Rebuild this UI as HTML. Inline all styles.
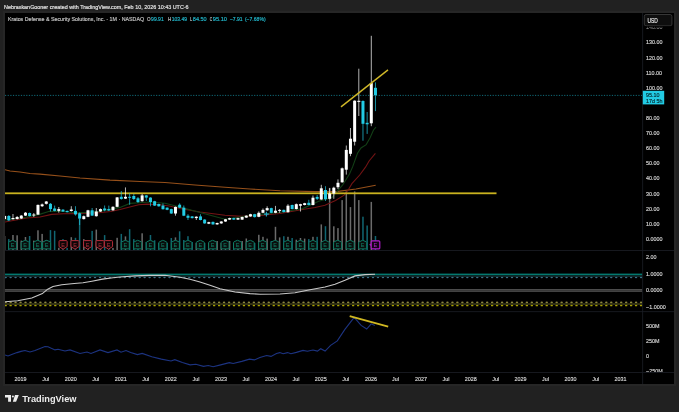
<!DOCTYPE html>
<html><head><meta charset="utf-8"><style>
html,body{margin:0;padding:0;background:#212121;width:679px;height:412px;overflow:hidden}
body{position:relative;font-family:"Liberation Sans",Arial,sans-serif}
#frame{position:absolute;left:3px;top:11px;width:672.5px;height:375px;background:#262626}
#chart{position:absolute;left:5px;top:13px;width:669px;height:371.3px;background:#000}
svg{position:absolute;left:0;top:0}
.ax{font-size:5.8px;fill:#dadada;stroke:#dadada;stroke-width:0.14px;font-family:"Liberation Sans",Arial,sans-serif}
.e{font-size:5.5px;font-family:"Liberation Sans",Arial,sans-serif;text-anchor:middle}
</style></head><body>
<div id="frame"></div>
<div id="chart"></div>
<svg width="679" height="412" viewBox="0 0 679 412"><defs><clipPath id="cp"><rect x="5" y="13" width="637.5" height="237"/></clipPath><clipPath id="cp2"><rect x="5" y="251" width="637.5" height="60.5"/></clipPath><clipPath id="cp5"><rect x="643" y="312" width="31" height="60.1"/></clipPath><clipPath id="cp3"><rect x="5" y="312" width="637.5" height="61"/></clipPath></defs><g clip-path="url(#cp)"><rect x="3.88" y="236.0" width="1.5" height="14.4" fill="rgba(255,255,255,0.42)"/><rect x="8.05" y="239.1" width="1.5" height="11.3" fill="rgba(34,203,228,0.5)"/><rect x="12.22" y="235.0" width="1.5" height="15.4" fill="rgba(255,255,255,0.42)"/><rect x="16.38" y="235.3" width="1.5" height="15.1" fill="rgba(255,255,255,0.42)"/><rect x="20.55" y="240.6" width="1.5" height="9.8" fill="rgba(255,255,255,0.42)"/><rect x="24.72" y="237.0" width="1.5" height="13.4" fill="rgba(255,255,255,0.42)"/><rect x="28.88" y="236.0" width="1.5" height="14.4" fill="rgba(34,203,228,0.5)"/><rect x="33.05" y="240.6" width="1.5" height="9.8" fill="rgba(255,255,255,0.42)"/><rect x="37.22" y="230.3" width="1.5" height="20.1" fill="rgba(255,255,255,0.42)"/><rect x="41.38" y="233.9" width="1.5" height="16.5" fill="rgba(255,255,255,0.42)"/><rect x="45.55" y="240.0" width="1.5" height="10.4" fill="rgba(255,255,255,0.42)"/><rect x="49.72" y="230.1" width="1.5" height="20.3" fill="rgba(34,203,228,0.5)"/><rect x="53.88" y="230.8" width="1.5" height="19.6" fill="rgba(34,203,228,0.5)"/><rect x="58.05" y="247.8" width="1.5" height="2.6" fill="rgba(255,255,255,0.42)"/><rect x="62.22" y="239.1" width="1.5" height="11.3" fill="rgba(34,203,228,0.5)"/><rect x="66.38" y="247.9" width="1.5" height="2.5" fill="rgba(34,203,228,0.5)"/><rect x="70.55" y="237.2" width="1.5" height="13.2" fill="rgba(255,255,255,0.42)"/><rect x="74.72" y="237.8" width="1.5" height="12.6" fill="rgba(34,203,228,0.5)"/><rect x="78.88" y="219.0" width="1.5" height="31.4" fill="rgba(34,203,228,0.5)"/><rect x="83.05" y="239.1" width="1.5" height="11.3" fill="rgba(255,255,255,0.42)"/><rect x="87.22" y="241.0" width="1.5" height="9.4" fill="rgba(255,255,255,0.42)"/><rect x="91.38" y="230.9" width="1.5" height="19.5" fill="rgba(34,203,228,0.5)"/><rect x="95.55" y="229.6" width="1.5" height="20.8" fill="rgba(255,255,255,0.42)"/><rect x="99.72" y="241.6" width="1.5" height="8.8" fill="rgba(255,255,255,0.42)"/><rect x="103.88" y="235.1" width="1.5" height="15.3" fill="rgba(34,203,228,0.5)"/><rect x="108.05" y="241.6" width="1.5" height="8.8" fill="rgba(34,203,228,0.5)"/><rect x="112.22" y="247.9" width="1.5" height="2.5" fill="rgba(255,255,255,0.42)"/><rect x="116.38" y="237.8" width="1.5" height="12.6" fill="rgba(255,255,255,0.42)"/><rect x="120.55" y="233.9" width="1.5" height="16.5" fill="rgba(34,203,228,0.5)"/><rect x="124.72" y="236.4" width="1.5" height="14.0" fill="rgba(255,255,255,0.42)"/><rect x="128.88" y="229.2" width="1.5" height="21.2" fill="rgba(34,203,228,0.5)"/><rect x="133.05" y="239.1" width="1.5" height="11.3" fill="rgba(34,203,228,0.5)"/><rect x="137.22" y="242.0" width="1.5" height="8.4" fill="rgba(34,203,228,0.5)"/><rect x="141.38" y="233.3" width="1.5" height="17.1" fill="rgba(255,255,255,0.42)"/><rect x="145.55" y="242.0" width="1.5" height="8.4" fill="rgba(34,203,228,0.5)"/><rect x="149.72" y="235.0" width="1.5" height="15.4" fill="rgba(34,203,228,0.5)"/><rect x="153.88" y="240.3" width="1.5" height="10.1" fill="rgba(34,203,228,0.5)"/><rect x="158.05" y="243.0" width="1.5" height="7.4" fill="rgba(34,203,228,0.5)"/><rect x="162.22" y="243.0" width="1.5" height="7.4" fill="rgba(34,203,228,0.5)"/><rect x="166.38" y="243.0" width="1.5" height="7.4" fill="rgba(34,203,228,0.5)"/><rect x="170.55" y="238.0" width="1.5" height="12.4" fill="rgba(34,203,228,0.5)"/><rect x="174.72" y="237.4" width="1.5" height="13.0" fill="rgba(255,255,255,0.42)"/><rect x="178.88" y="231.3" width="1.5" height="19.1" fill="rgba(34,203,228,0.5)"/><rect x="183.05" y="240.0" width="1.5" height="10.4" fill="rgba(34,203,228,0.5)"/><rect x="187.22" y="236.2" width="1.5" height="14.2" fill="rgba(34,203,228,0.5)"/><rect x="191.38" y="242.0" width="1.5" height="8.4" fill="rgba(34,203,228,0.5)"/><rect x="195.55" y="243.0" width="1.5" height="7.4" fill="rgba(255,255,255,0.42)"/><rect x="199.72" y="241.0" width="1.5" height="9.4" fill="rgba(34,203,228,0.5)"/><rect x="203.88" y="243.0" width="1.5" height="7.4" fill="rgba(34,203,228,0.5)"/><rect x="208.05" y="243.0" width="1.5" height="7.4" fill="rgba(255,255,255,0.42)"/><rect x="212.22" y="243.0" width="1.5" height="7.4" fill="rgba(34,203,228,0.5)"/><rect x="216.38" y="241.0" width="1.5" height="9.4" fill="rgba(255,255,255,0.42)"/><rect x="220.55" y="243.0" width="1.5" height="7.4" fill="rgba(255,255,255,0.42)"/><rect x="224.72" y="243.0" width="1.5" height="7.4" fill="rgba(255,255,255,0.42)"/><rect x="228.88" y="241.0" width="1.5" height="9.4" fill="rgba(255,255,255,0.42)"/><rect x="233.05" y="243.0" width="1.5" height="7.4" fill="rgba(34,203,228,0.5)"/><rect x="237.22" y="243.0" width="1.5" height="7.4" fill="rgba(255,255,255,0.42)"/><rect x="241.39" y="241.0" width="1.5" height="9.4" fill="rgba(255,255,255,0.42)"/><rect x="245.55" y="238.5" width="1.5" height="11.9" fill="rgba(255,255,255,0.42)"/><rect x="249.72" y="243.0" width="1.5" height="7.4" fill="rgba(255,255,255,0.42)"/><rect x="253.89" y="243.0" width="1.5" height="7.4" fill="rgba(34,203,228,0.5)"/><rect x="258.05" y="234.8" width="1.5" height="15.6" fill="rgba(255,255,255,0.42)"/><rect x="262.22" y="236.8" width="1.5" height="13.6" fill="rgba(255,255,255,0.42)"/><rect x="266.39" y="238.6" width="1.5" height="11.8" fill="rgba(255,255,255,0.42)"/><rect x="270.55" y="241.0" width="1.5" height="9.4" fill="rgba(34,203,228,0.5)"/><rect x="274.72" y="226.8" width="1.5" height="23.6" fill="rgba(255,255,255,0.42)"/><rect x="278.89" y="237.4" width="1.5" height="13.0" fill="rgba(255,255,255,0.42)"/><rect x="283.05" y="236.2" width="1.5" height="14.2" fill="rgba(34,203,228,0.5)"/><rect x="287.22" y="236.8" width="1.5" height="13.6" fill="rgba(255,255,255,0.42)"/><rect x="291.39" y="238.0" width="1.5" height="12.4" fill="rgba(34,203,228,0.5)"/><rect x="295.55" y="239.7" width="1.5" height="10.7" fill="rgba(255,255,255,0.42)"/><rect x="299.72" y="238.0" width="1.5" height="12.4" fill="rgba(255,255,255,0.42)"/><rect x="303.89" y="238.6" width="1.5" height="11.8" fill="rgba(255,255,255,0.42)"/><rect x="308.05" y="239.1" width="1.5" height="11.3" fill="rgba(34,203,228,0.5)"/><rect x="312.22" y="236.8" width="1.5" height="13.6" fill="rgba(255,255,255,0.42)"/><rect x="316.39" y="236.8" width="1.5" height="13.6" fill="rgba(34,203,228,0.5)"/><rect x="320.55" y="224.4" width="1.5" height="26.0" fill="rgba(255,255,255,0.42)"/><rect x="324.72" y="226.2" width="1.5" height="24.2" fill="rgba(34,203,228,0.5)"/><rect x="328.89" y="187.9" width="1.5" height="62.5" fill="rgba(255,255,255,0.42)"/><rect x="333.05" y="226.3" width="1.5" height="24.1" fill="rgba(255,255,255,0.42)"/><rect x="337.22" y="228.1" width="1.5" height="22.3" fill="rgba(255,255,255,0.42)"/><rect x="341.39" y="200.1" width="1.5" height="50.3" fill="rgba(255,255,255,0.42)"/><rect x="345.55" y="191.4" width="1.5" height="59.0" fill="rgba(255,255,255,0.42)"/><rect x="349.72" y="207.1" width="1.5" height="43.3" fill="rgba(255,255,255,0.42)"/><rect x="353.89" y="191.4" width="1.5" height="59.0" fill="rgba(255,255,255,0.42)"/><rect x="358.05" y="200.1" width="1.5" height="50.3" fill="rgba(255,255,255,0.42)"/><rect x="362.22" y="216.7" width="1.5" height="33.7" fill="rgba(34,203,228,0.5)"/><rect x="366.39" y="225.5" width="1.5" height="24.9" fill="rgba(34,203,228,0.5)"/><rect x="370.55" y="201.9" width="1.5" height="48.5" fill="rgba(255,255,255,0.42)"/><rect x="374.72" y="236.0" width="1.5" height="14.4" fill="rgba(34,203,228,0.5)"/><polyline points="4.8,169.7 10.0,171.0 20.0,172.0 30.0,173.5 40.0,174.1 60.0,176.0 80.0,178.0 110.0,180.1 140.0,181.5 165.0,182.5 195.0,185.0 225.0,187.3 250.0,189.0 280.0,190.8 315.0,191.6 338.0,191.4 356.0,189.0 375.7,185.2" fill="none" stroke="#96501a" stroke-width="1.1"/><polyline points="4.8,222.0 26.7,218.0 40.0,217.0 51.8,214.4 63.6,213.8 75.3,213.6 87.1,213.3 98.9,212.7 110.7,211.5 120.0,209.5 138.7,204.7 146.7,204.1 160.0,204.7 169.3,206.0 180.0,208.5 200.0,212.0 225.0,215.2 241.8,216.4 260.0,215.5 280.0,213.5 304.0,209.3 315.0,207.5 325.0,205.3 335.5,200.5 344.2,195.1 348.5,189.5 351.9,183.7 359.7,175.0 365.5,167.2 369.1,161.0 375.4,153.3" fill="none" stroke="#721314" stroke-width="1.1"/><polyline points="4.8,220.0 24.3,217.5 38.8,214.6 49.4,211.2 63.6,211.5 75.3,212.7 87.1,212.4 98.9,211.5 110.7,209.1 120.0,207.4 130.0,203.4 150.0,202.0 165.0,203.3 180.0,207.0 200.0,212.5 225.0,219.3 249.0,215.7 280.0,212.3 302.7,208.6 318.7,201.3 332.0,197.5 342.5,185.2 349.5,174.0 352.6,166.9 357.5,153.3 361.0,148.0 366.2,144.6 370.1,137.8 373.5,130.0 376.0,127.2" fill="none" stroke="#123f16" stroke-width="1.1"/><rect x="5" y="192.4" width="491.5" height="1.8" fill="#c9b21f"/><line x1="5" y1="95.4" x2="642" y2="95.4" stroke="#137d8e" stroke-width="0.85" stroke-dasharray="1.2,1.45"/><rect x="4.13" y="215" width="1" height="5.0" fill="#ffffff" fill-opacity="0.7"/><rect x="3.13" y="216" width="3" height="3.0" fill="#ffffff"/><rect x="8.30" y="215" width="1" height="6.0" fill="#22cbe4" fill-opacity="0.7"/><rect x="7.30" y="216" width="3" height="4.4" fill="#22cbe4"/><rect x="12.47" y="214" width="1" height="5.5" fill="#ffffff" fill-opacity="0.7"/><rect x="11.47" y="218" width="3" height="1.2" fill="#ffffff"/><rect x="16.63" y="216" width="1" height="3.5" fill="#ffffff" fill-opacity="0.7"/><rect x="15.63" y="217" width="3" height="2.0" fill="#ffffff"/><rect x="20.80" y="215" width="1" height="4.0" fill="#ffffff" fill-opacity="0.7"/><rect x="19.80" y="215.6" width="3" height="2.9" fill="#ffffff"/><rect x="24.97" y="212" width="1" height="4.0" fill="#ffffff" fill-opacity="0.7"/><rect x="23.97" y="212.7" width="3" height="2.9" fill="#ffffff"/><rect x="29.13" y="212.5" width="1" height="4.0" fill="#22cbe4" fill-opacity="0.7"/><rect x="28.13" y="213" width="3" height="3.0" fill="#22cbe4"/><rect x="33.30" y="213" width="1" height="4.0" fill="#ffffff" fill-opacity="0.7"/><rect x="32.30" y="214.5" width="3" height="1.0" fill="#ffffff"/><rect x="37.47" y="204.5" width="1" height="10.5" fill="#ffffff" fill-opacity="0.7"/><rect x="36.47" y="204.9" width="3" height="9.7" fill="#ffffff"/><rect x="41.63" y="203.5" width="1" height="3.5" fill="#ffffff" fill-opacity="0.7"/><rect x="40.63" y="204.4" width="3" height="1.8" fill="#ffffff"/><rect x="45.80" y="201" width="1" height="3.5" fill="#ffffff" fill-opacity="0.7"/><rect x="44.80" y="201.5" width="3" height="2.3" fill="#ffffff"/><rect x="49.97" y="203" width="1" height="8.5" fill="#22cbe4" fill-opacity="0.7"/><rect x="48.97" y="203.8" width="3" height="5.3" fill="#22cbe4"/><rect x="54.13" y="205.6" width="1" height="5.7" fill="#22cbe4" fill-opacity="0.7"/><rect x="53.13" y="208.5" width="3" height="2.4" fill="#22cbe4"/><rect x="58.30" y="207" width="1" height="5.7" fill="#ffffff" fill-opacity="0.7"/><rect x="57.30" y="209.1" width="3" height="1.8" fill="#ffffff"/><rect x="62.47" y="209" width="1" height="3.0" fill="#22cbe4" fill-opacity="0.7"/><rect x="61.47" y="209.7" width="3" height="1.8" fill="#22cbe4"/><rect x="66.63" y="210.5" width="1" height="2.0" fill="#22cbe4" fill-opacity="0.7"/><rect x="65.63" y="210.9" width="3" height="1.2" fill="#22cbe4"/><rect x="70.80" y="206.2" width="1" height="5.3" fill="#ffffff" fill-opacity="0.7"/><rect x="69.80" y="209.5" width="3" height="1.5" fill="#ffffff"/><rect x="74.97" y="206.2" width="1" height="9.4" fill="#22cbe4" fill-opacity="0.7"/><rect x="73.97" y="210.9" width="3" height="3.5" fill="#22cbe4"/><rect x="79.13" y="212.5" width="1" height="12.5" fill="#22cbe4" fill-opacity="0.7"/><rect x="78.13" y="213.3" width="3" height="5.3" fill="#22cbe4"/><rect x="83.30" y="215.5" width="1" height="4.0" fill="#ffffff" fill-opacity="0.7"/><rect x="82.30" y="216.2" width="3" height="2.9" fill="#ffffff"/><rect x="87.47" y="209.8" width="1" height="7.4" fill="#ffffff" fill-opacity="0.7"/><rect x="86.47" y="210.3" width="3" height="6.5" fill="#ffffff"/><rect x="91.63" y="208" width="1" height="8.0" fill="#22cbe4" fill-opacity="0.7"/><rect x="90.63" y="210.3" width="3" height="5.3" fill="#22cbe4"/><rect x="95.80" y="208" width="1" height="8.6" fill="#ffffff" fill-opacity="0.7"/><rect x="94.80" y="211.5" width="3" height="4.7" fill="#ffffff"/><rect x="99.97" y="208.5" width="1" height="3.5" fill="#ffffff" fill-opacity="0.7"/><rect x="98.97" y="209.1" width="3" height="2.4" fill="#ffffff"/><rect x="104.13" y="205.5" width="1" height="5.8" fill="#22cbe4" fill-opacity="0.7"/><rect x="103.13" y="208.5" width="3" height="1.8" fill="#22cbe4"/><rect x="108.30" y="205.6" width="1" height="5.4" fill="#22cbe4" fill-opacity="0.7"/><rect x="107.30" y="209.1" width="3" height="1.4" fill="#22cbe4"/><rect x="112.47" y="206.3" width="1" height="4.5" fill="#ffffff" fill-opacity="0.7"/><rect x="111.47" y="206.8" width="3" height="3.5" fill="#ffffff"/><rect x="116.63" y="197" width="1" height="10.2" fill="#ffffff" fill-opacity="0.7"/><rect x="115.63" y="197.4" width="3" height="9.4" fill="#ffffff"/><rect x="120.80" y="191" width="1" height="8.7" fill="#22cbe4" fill-opacity="0.7"/><rect x="119.80" y="196.8" width="3" height="2.2" fill="#22cbe4"/><rect x="124.97" y="187.4" width="1" height="11.6" fill="#ffffff" fill-opacity="0.7"/><rect x="123.97" y="196.8" width="3" height="1.8" fill="#ffffff"/><rect x="129.13" y="193.2" width="1" height="11.6" fill="#22cbe4" fill-opacity="0.7"/><rect x="128.13" y="196.8" width="3" height="1.0" fill="#22cbe4"/><rect x="133.30" y="194" width="1" height="6.0" fill="#22cbe4" fill-opacity="0.7"/><rect x="132.30" y="196" width="3" height="3.0" fill="#22cbe4"/><rect x="137.47" y="197" width="1" height="6.0" fill="#22cbe4" fill-opacity="0.7"/><rect x="136.47" y="198.3" width="3" height="3.7" fill="#22cbe4"/><rect x="141.63" y="194" width="1" height="7.6" fill="#ffffff" fill-opacity="0.7"/><rect x="140.63" y="195.4" width="3" height="5.8" fill="#ffffff"/><rect x="145.80" y="195" width="1" height="6.0" fill="#22cbe4" fill-opacity="0.7"/><rect x="144.80" y="195.4" width="3" height="2.2" fill="#22cbe4"/><rect x="149.97" y="197.2" width="1" height="9.1" fill="#22cbe4" fill-opacity="0.7"/><rect x="148.97" y="197.6" width="3" height="4.4" fill="#22cbe4"/><rect x="154.13" y="200.8" width="1" height="5.2" fill="#22cbe4" fill-opacity="0.7"/><rect x="153.13" y="201.2" width="3" height="4.4" fill="#22cbe4"/><rect x="158.30" y="203.6" width="1" height="3.1" fill="#22cbe4" fill-opacity="0.7"/><rect x="157.30" y="204" width="3" height="2.3" fill="#22cbe4"/><rect x="162.47" y="203.4" width="1" height="6.2" fill="#22cbe4" fill-opacity="0.7"/><rect x="161.47" y="205.6" width="3" height="3.6" fill="#22cbe4"/><rect x="166.63" y="207.3" width="1" height="2.9" fill="#22cbe4" fill-opacity="0.7"/><rect x="165.63" y="207.7" width="3" height="2.1" fill="#22cbe4"/><rect x="170.80" y="208.7" width="1" height="5.2" fill="#22cbe4" fill-opacity="0.7"/><rect x="169.80" y="209.1" width="3" height="4.4" fill="#22cbe4"/><rect x="174.97" y="206.5" width="1" height="9.2" fill="#ffffff" fill-opacity="0.7"/><rect x="173.97" y="206.9" width="3" height="6.6" fill="#ffffff"/><rect x="179.13" y="203.3" width="1" height="4.8" fill="#22cbe4" fill-opacity="0.7"/><rect x="178.13" y="204.7" width="3" height="3.0" fill="#22cbe4"/><rect x="183.30" y="205.5" width="1" height="10.6" fill="#22cbe4" fill-opacity="0.7"/><rect x="182.30" y="207.7" width="3" height="8.0" fill="#22cbe4"/><rect x="187.47" y="214.2" width="1" height="5.8" fill="#22cbe4" fill-opacity="0.7"/><rect x="186.47" y="215.7" width="3" height="2.1" fill="#22cbe4"/><rect x="191.63" y="216" width="1" height="2.5" fill="#22cbe4" fill-opacity="0.7"/><rect x="190.63" y="216.4" width="3" height="1.7" fill="#22cbe4"/><rect x="195.80" y="216.3" width="1" height="3.7" fill="#ffffff" fill-opacity="0.7"/><rect x="194.80" y="216.7" width="3" height="1.4" fill="#ffffff"/><rect x="199.97" y="214.2" width="1" height="6.2" fill="#22cbe4" fill-opacity="0.7"/><rect x="198.97" y="216.4" width="3" height="3.6" fill="#22cbe4"/><rect x="204.13" y="219.2" width="1" height="4.6" fill="#22cbe4" fill-opacity="0.7"/><rect x="203.13" y="219.6" width="3" height="3.8" fill="#22cbe4"/><rect x="208.30" y="221.8" width="1" height="2.3" fill="#ffffff" fill-opacity="0.7"/><rect x="207.30" y="222.2" width="3" height="1.5" fill="#ffffff"/><rect x="212.47" y="221.5" width="1" height="3.3" fill="#22cbe4" fill-opacity="0.7"/><rect x="211.47" y="221.9" width="3" height="2.5" fill="#22cbe4"/><rect x="216.63" y="222.6" width="1" height="2.2" fill="#ffffff" fill-opacity="0.7"/><rect x="215.63" y="223" width="3" height="1.4" fill="#ffffff"/><rect x="220.80" y="221.1" width="1" height="2.7" fill="#ffffff" fill-opacity="0.7"/><rect x="219.80" y="221.5" width="3" height="1.9" fill="#ffffff"/><rect x="224.97" y="218.9" width="1" height="3.0" fill="#ffffff" fill-opacity="0.7"/><rect x="223.97" y="219.3" width="3" height="2.2" fill="#ffffff"/><rect x="229.13" y="217.7" width="1" height="2.3" fill="#ffffff" fill-opacity="0.7"/><rect x="228.13" y="218.1" width="3" height="1.5" fill="#ffffff"/><rect x="233.30" y="217.7" width="1" height="2.3" fill="#22cbe4" fill-opacity="0.7"/><rect x="232.30" y="218.1" width="3" height="1.5" fill="#22cbe4"/><rect x="237.47" y="217.7" width="1" height="2.3" fill="#ffffff" fill-opacity="0.7"/><rect x="236.47" y="218.1" width="3" height="1.5" fill="#ffffff"/><rect x="241.64" y="216.6" width="1" height="3.4" fill="#ffffff" fill-opacity="0.7"/><rect x="240.64" y="217" width="3" height="2.6" fill="#ffffff"/><rect x="245.80" y="215.3" width="1" height="2.7" fill="#ffffff" fill-opacity="0.7"/><rect x="244.80" y="215.7" width="3" height="1.9" fill="#ffffff"/><rect x="249.97" y="213.8" width="1" height="3.0" fill="#ffffff" fill-opacity="0.7"/><rect x="248.97" y="214.2" width="3" height="2.2" fill="#ffffff"/><rect x="254.14" y="213.8" width="1" height="3.7" fill="#22cbe4" fill-opacity="0.7"/><rect x="253.14" y="214.2" width="3" height="2.9" fill="#22cbe4"/><rect x="258.30" y="211.4" width="1" height="5.8" fill="#ffffff" fill-opacity="0.7"/><rect x="257.30" y="212.8" width="3" height="4.0" fill="#ffffff"/><rect x="262.47" y="208.5" width="1" height="4.7" fill="#ffffff" fill-opacity="0.7"/><rect x="261.47" y="209.9" width="3" height="2.9" fill="#ffffff"/><rect x="266.64" y="206.3" width="1" height="4.4" fill="#ffffff" fill-opacity="0.7"/><rect x="265.64" y="208.1" width="3" height="2.2" fill="#ffffff"/><rect x="270.80" y="207.7" width="1" height="5.5" fill="#22cbe4" fill-opacity="0.7"/><rect x="269.80" y="208.1" width="3" height="4.7" fill="#22cbe4"/><rect x="274.97" y="205.9" width="1" height="7.3" fill="#ffffff" fill-opacity="0.7"/><rect x="273.97" y="210.7" width="3" height="2.1" fill="#ffffff"/><rect x="279.14" y="209" width="1" height="3.8" fill="#ffffff" fill-opacity="0.7"/><rect x="278.14" y="209.9" width="3" height="1.0" fill="#ffffff"/><rect x="283.30" y="209.5" width="1" height="3.0" fill="#22cbe4" fill-opacity="0.7"/><rect x="282.30" y="209.9" width="3" height="2.2" fill="#22cbe4"/><rect x="287.47" y="204.2" width="1" height="8.4" fill="#ffffff" fill-opacity="0.7"/><rect x="286.47" y="205.7" width="3" height="6.5" fill="#ffffff"/><rect x="291.64" y="204.6" width="1" height="4.8" fill="#22cbe4" fill-opacity="0.7"/><rect x="290.64" y="205" width="3" height="4.0" fill="#22cbe4"/><rect x="295.80" y="203.5" width="1" height="5.9" fill="#ffffff" fill-opacity="0.7"/><rect x="294.80" y="204.2" width="3" height="4.8" fill="#ffffff"/><rect x="299.97" y="203.8" width="1" height="7.7" fill="#ffffff" fill-opacity="0.7"/><rect x="298.97" y="204.2" width="3" height="1.5" fill="#ffffff"/><rect x="304.14" y="202.8" width="1" height="2.6" fill="#ffffff" fill-opacity="0.7"/><rect x="303.14" y="203.2" width="3" height="1.8" fill="#ffffff"/><rect x="308.30" y="199.8" width="1" height="5.6" fill="#22cbe4" fill-opacity="0.7"/><rect x="307.30" y="202.8" width="3" height="2.2" fill="#22cbe4"/><rect x="312.47" y="195.5" width="1" height="9.9" fill="#ffffff" fill-opacity="0.7"/><rect x="311.47" y="197.7" width="3" height="7.3" fill="#ffffff"/><rect x="316.64" y="195" width="1" height="5.0" fill="#22cbe4" fill-opacity="0.7"/><rect x="315.64" y="196.9" width="3" height="1.9" fill="#22cbe4"/><rect x="320.80" y="184.8" width="1" height="15.1" fill="#ffffff" fill-opacity="0.7"/><rect x="319.80" y="188.3" width="3" height="11.2" fill="#ffffff"/><rect x="324.97" y="186.2" width="1" height="14.8" fill="#22cbe4" fill-opacity="0.7"/><rect x="323.97" y="190" width="3" height="9.2" fill="#22cbe4"/><rect x="329.14" y="188.2" width="1" height="11.0" fill="#ffffff" fill-opacity="0.7"/><rect x="328.14" y="193.5" width="3" height="5.3" fill="#ffffff"/><rect x="333.30" y="186.7" width="1" height="12.1" fill="#ffffff" fill-opacity="0.7"/><rect x="332.30" y="187.7" width="3" height="5.8" fill="#ffffff"/><rect x="337.47" y="179.4" width="1" height="9.7" fill="#ffffff" fill-opacity="0.7"/><rect x="336.47" y="182.8" width="3" height="4.4" fill="#ffffff"/><rect x="341.64" y="167.5" width="1" height="15.2" fill="#ffffff" fill-opacity="0.7"/><rect x="340.64" y="168.3" width="3" height="14.0" fill="#ffffff"/><rect x="345.80" y="145.5" width="1" height="29.1" fill="#ffffff" fill-opacity="0.7"/><rect x="344.80" y="149.9" width="3" height="19.8" fill="#ffffff"/><rect x="349.97" y="128" width="1" height="28.2" fill="#ffffff" fill-opacity="0.7"/><rect x="348.97" y="138.7" width="3" height="15.1" fill="#ffffff"/><rect x="354.14" y="100.3" width="1" height="45.2" fill="#ffffff" fill-opacity="0.7"/><rect x="353.14" y="100.7" width="3" height="41.0" fill="#ffffff"/><rect x="358.30" y="68.7" width="1" height="47.3" fill="#ffffff" fill-opacity="0.7"/><rect x="357.30" y="100.8" width="3" height="1.1" fill="#ffffff"/><rect x="362.47" y="100.3" width="1" height="40.4" fill="#22cbe4" fill-opacity="0.7"/><rect x="361.47" y="101" width="3" height="22.8" fill="#22cbe4"/><rect x="366.64" y="112" width="1" height="21.9" fill="#22cbe4" fill-opacity="0.7"/><rect x="365.64" y="122.8" width="3" height="1.5" fill="#22cbe4"/><rect x="370.80" y="35.8" width="1" height="90.4" fill="#ffffff" fill-opacity="0.7"/><rect x="369.80" y="83.1" width="3" height="40.2" fill="#ffffff"/><rect x="374.97" y="82.4" width="1" height="28.7" fill="#22cbe4" fill-opacity="0.7"/><rect x="373.97" y="87.8" width="3" height="7.3" fill="#22cbe4"/><line x1="341" y1="106.9" x2="388" y2="69.9" stroke="#d0b828" stroke-width="1.4"/><path d="M264 214.1h4.8M266.4 211.7v4.8" stroke="#22a8c8" stroke-width="1.1"/><path d="M8.60 248.9V242.4Q8.60 242.1 9.00 241.9L12.20 240.4Q12.60 240.2 13.00 240.4L16.20 241.9Q16.60 242.1 16.60 242.4V248.9Z" fill="#0a0d0c" stroke="#108067" stroke-width="0.95"/><text x="12.60" y="247.2" class="e" fill="#108067">E</text><path d="M21.20 248.9V242.4Q21.20 242.1 21.60 241.9L24.80 240.4Q25.20 240.2 25.60 240.4L28.80 241.9Q29.20 242.1 29.20 242.4V248.9Z" fill="#0a0d0c" stroke="#108067" stroke-width="0.95"/><text x="25.20" y="247.2" class="e" fill="#108067">E</text><path d="M33.60 248.9V242.4Q33.60 242.1 34.00 241.9L37.20 240.4Q37.60 240.2 38.00 240.4L41.20 241.9Q41.60 242.1 41.60 242.4V248.9Z" fill="#0a0d0c" stroke="#108067" stroke-width="0.95"/><text x="37.60" y="247.2" class="e" fill="#108067">E</text><path d="M42.60 248.9V242.4Q42.60 242.1 43.00 241.9L46.20 240.4Q46.60 240.2 47.00 240.4L50.20 241.9Q50.60 242.1 50.60 242.4V248.9Z" fill="#0a0d0c" stroke="#108067" stroke-width="0.95"/><text x="46.60" y="247.2" class="e" fill="#108067">E</text><path d="M121.30 248.9V242.4Q121.30 242.1 121.70 241.9L124.90 240.4Q125.30 240.2 125.70 240.4L128.90 241.9Q129.30 242.1 129.30 242.4V248.9Z" fill="#0a0d0c" stroke="#108067" stroke-width="0.95"/><text x="125.30" y="247.2" class="e" fill="#108067">E</text><path d="M133.70 248.9V242.4Q133.70 242.1 134.10 241.9L137.30 240.4Q137.70 240.2 138.10 240.4L141.30 241.9Q141.70 242.1 141.70 242.4V248.9Z" fill="#0a0d0c" stroke="#108067" stroke-width="0.95"/><text x="137.70" y="247.2" class="e" fill="#108067">E</text><path d="M146.30 248.9V242.4Q146.30 242.1 146.70 241.9L149.90 240.4Q150.30 240.2 150.70 240.4L153.90 241.9Q154.30 242.1 154.30 242.4V248.9Z" fill="#0a0d0c" stroke="#108067" stroke-width="0.95"/><text x="150.30" y="247.2" class="e" fill="#108067">E</text><path d="M158.90 248.9V242.4Q158.90 242.1 159.30 241.9L162.50 240.4Q162.90 240.2 163.30 240.4L166.50 241.9Q166.90 242.1 166.90 242.4V248.9Z" fill="#0a0d0c" stroke="#108067" stroke-width="0.95"/><text x="162.90" y="247.2" class="e" fill="#108067">E</text><path d="M171.40 248.9V242.4Q171.40 242.1 171.80 241.9L175.00 240.4Q175.40 240.2 175.80 240.4L179.00 241.9Q179.40 242.1 179.40 242.4V248.9Z" fill="#0a0d0c" stroke="#108067" stroke-width="0.95"/><text x="175.40" y="247.2" class="e" fill="#108067">E</text><path d="M183.90 248.9V242.4Q183.90 242.1 184.30 241.9L187.50 240.4Q187.90 240.2 188.30 240.4L191.50 241.9Q191.90 242.1 191.90 242.4V248.9Z" fill="#0a0d0c" stroke="#108067" stroke-width="0.95"/><text x="187.90" y="247.2" class="e" fill="#108067">E</text><path d="M196.30 248.9V242.4Q196.30 242.1 196.70 241.9L199.90 240.4Q200.30 240.2 200.70 240.4L203.90 241.9Q204.30 242.1 204.30 242.4V248.9Z" fill="#0a0d0c" stroke="#108067" stroke-width="0.95"/><text x="200.30" y="247.2" class="e" fill="#108067">E</text><path d="M208.60 248.9V242.4Q208.60 242.1 209.00 241.9L212.20 240.4Q212.60 240.2 213.00 240.4L216.20 241.9Q216.60 242.1 216.60 242.4V248.9Z" fill="#0a0d0c" stroke="#108067" stroke-width="0.95"/><text x="212.60" y="247.2" class="e" fill="#108067">E</text><path d="M221.10 248.9V242.4Q221.10 242.1 221.50 241.9L224.70 240.4Q225.10 240.2 225.50 240.4L228.70 241.9Q229.10 242.1 229.10 242.4V248.9Z" fill="#0a0d0c" stroke="#108067" stroke-width="0.95"/><text x="225.10" y="247.2" class="e" fill="#108067">E</text><path d="M233.50 248.9V242.4Q233.50 242.1 233.90 241.9L237.10 240.4Q237.50 240.2 237.90 240.4L241.10 241.9Q241.50 242.1 241.50 242.4V248.9Z" fill="#0a0d0c" stroke="#108067" stroke-width="0.95"/><text x="237.50" y="247.2" class="e" fill="#108067">E</text><path d="M246.20 248.9V242.4Q246.20 242.1 246.60 241.9L249.80 240.4Q250.20 240.2 250.60 240.4L253.80 241.9Q254.20 242.1 254.20 242.4V248.9Z" fill="#0a0d0c" stroke="#108067" stroke-width="0.95"/><text x="250.20" y="247.2" class="e" fill="#108067">E</text><path d="M258.60 248.9V242.4Q258.60 242.1 259.00 241.9L262.20 240.4Q262.60 240.2 263.00 240.4L266.20 241.9Q266.60 242.1 266.60 242.4V248.9Z" fill="#0a0d0c" stroke="#108067" stroke-width="0.95"/><text x="262.60" y="247.2" class="e" fill="#108067">E</text><path d="M271.10 248.9V242.4Q271.10 242.1 271.50 241.9L274.70 240.4Q275.10 240.2 275.50 240.4L278.70 241.9Q279.10 242.1 279.10 242.4V248.9Z" fill="#0a0d0c" stroke="#108067" stroke-width="0.95"/><text x="275.10" y="247.2" class="e" fill="#108067">E</text><path d="M283.70 248.9V242.4Q283.70 242.1 284.10 241.9L287.30 240.4Q287.70 240.2 288.10 240.4L291.30 241.9Q291.70 242.1 291.70 242.4V248.9Z" fill="#0a0d0c" stroke="#108067" stroke-width="0.95"/><text x="287.70" y="247.2" class="e" fill="#108067">E</text><path d="M296.30 248.9V242.4Q296.30 242.1 296.70 241.9L299.90 240.4Q300.30 240.2 300.70 240.4L303.90 241.9Q304.30 242.1 304.30 242.4V248.9Z" fill="#0a0d0c" stroke="#108067" stroke-width="0.95"/><text x="300.30" y="247.2" class="e" fill="#108067">E</text><path d="M308.90 248.9V242.4Q308.90 242.1 309.30 241.9L312.50 240.4Q312.90 240.2 313.30 240.4L316.50 241.9Q316.90 242.1 316.90 242.4V248.9Z" fill="#0a0d0c" stroke="#108067" stroke-width="0.95"/><text x="312.90" y="247.2" class="e" fill="#108067">E</text><path d="M321.20 248.9V242.4Q321.20 242.1 321.60 241.9L324.80 240.4Q325.20 240.2 325.60 240.4L328.80 241.9Q329.20 242.1 329.20 242.4V248.9Z" fill="#0a0d0c" stroke="#108067" stroke-width="0.95"/><text x="325.20" y="247.2" class="e" fill="#108067">E</text><path d="M333.60 248.9V242.4Q333.60 242.1 334.00 241.9L337.20 240.4Q337.60 240.2 338.00 240.4L341.20 241.9Q341.60 242.1 341.60 242.4V248.9Z" fill="#0a0d0c" stroke="#108067" stroke-width="0.95"/><text x="337.60" y="247.2" class="e" fill="#108067">E</text><path d="M346.20 248.9V242.4Q346.20 242.1 346.60 241.9L349.80 240.4Q350.20 240.2 350.60 240.4L353.80 241.9Q354.20 242.1 354.20 242.4V248.9Z" fill="#0a0d0c" stroke="#108067" stroke-width="0.95"/><text x="350.20" y="247.2" class="e" fill="#108067">E</text><path d="M358.70 248.9V242.4Q358.70 242.1 359.10 241.9L362.30 240.4Q362.70 240.2 363.10 240.4L366.30 241.9Q366.70 242.1 366.70 242.4V248.9Z" fill="#0a0d0c" stroke="#108067" stroke-width="0.95"/><text x="362.70" y="247.2" class="e" fill="#108067">E</text><path d="M59.05 241.5Q59.05 240.6 59.90 240.6H66.30Q67.15 240.6 67.15 241.5V246.6L63.10 249.2L59.05 246.6Z" fill="#0e0607" stroke="#b32d3a" stroke-width="1"/><text x="63.10" y="247.1" class="e" fill="#b32d3a">E</text><path d="M70.95 241.5Q70.95 240.6 71.80 240.6H78.20Q79.05 240.6 79.05 241.5V246.6L75.00 249.2L70.95 246.6Z" fill="#0e0607" stroke="#b32d3a" stroke-width="1"/><text x="75.00" y="247.1" class="e" fill="#b32d3a">E</text><path d="M83.55 241.5Q83.55 240.6 84.40 240.6H90.80Q91.65 240.6 91.65 241.5V246.6L87.60 249.2L83.55 246.6Z" fill="#0e0607" stroke="#b32d3a" stroke-width="1"/><text x="87.60" y="247.1" class="e" fill="#b32d3a">E</text><path d="M96.05 241.5Q96.05 240.6 96.90 240.6H103.30Q104.15 240.6 104.15 241.5V246.6L100.10 249.2L96.05 246.6Z" fill="#0e0607" stroke="#b32d3a" stroke-width="1"/><text x="100.10" y="247.1" class="e" fill="#b32d3a">E</text><path d="M104.45 241.5Q104.45 240.6 105.30 240.6H111.70Q112.55 240.6 112.55 241.5V246.6L108.50 249.2L104.45 246.6Z" fill="#0e0607" stroke="#b32d3a" stroke-width="1"/><text x="108.50" y="247.1" class="e" fill="#b32d3a">E</text><rect x="371.2" y="240.8" width="8.6" height="8.1" rx="1.0" fill="#120414" stroke="#b21ccc" stroke-width="1.15"/><path d="M370.9 243.6l-1.7 1.2l1.7 1.2z" fill="#b61ccc"/><text x="375.3" y="247.0" class="e" fill="#b61ccc">E</text></g><g clip-path="url(#cp2)"><rect x="5" y="273.6" width="637.5" height="1.7" fill="#03786f"/><ellipse cx="5.66" cy="277.5" rx="1.25" ry="0.8" fill="#3a7088"/><ellipse cx="5.66" cy="302.4" rx="1.25" ry="0.8" fill="#8a8540"/><ellipse cx="5.66" cy="305.5" rx="1.25" ry="0.85" fill="#a8a200"/><ellipse cx="10.62" cy="277.5" rx="1.25" ry="0.8" fill="#3a7088"/><ellipse cx="10.62" cy="302.4" rx="1.25" ry="0.8" fill="#8a8540"/><ellipse cx="10.62" cy="305.5" rx="1.25" ry="0.85" fill="#a8a200"/><ellipse cx="15.59" cy="277.5" rx="1.25" ry="0.8" fill="#3a7088"/><ellipse cx="15.59" cy="302.4" rx="1.25" ry="0.8" fill="#8a8540"/><ellipse cx="15.59" cy="305.5" rx="1.25" ry="0.85" fill="#a8a200"/><ellipse cx="20.55" cy="277.5" rx="1.25" ry="0.8" fill="#3a7088"/><ellipse cx="20.55" cy="302.4" rx="1.25" ry="0.8" fill="#8a8540"/><ellipse cx="20.55" cy="305.5" rx="1.25" ry="0.85" fill="#a8a200"/><ellipse cx="25.52" cy="277.5" rx="1.25" ry="0.8" fill="#3a7088"/><ellipse cx="25.52" cy="302.4" rx="1.25" ry="0.8" fill="#8a8540"/><ellipse cx="25.52" cy="305.5" rx="1.25" ry="0.85" fill="#a8a200"/><ellipse cx="30.48" cy="277.5" rx="1.25" ry="0.8" fill="#3a7088"/><ellipse cx="30.48" cy="302.4" rx="1.25" ry="0.8" fill="#8a8540"/><ellipse cx="30.48" cy="305.5" rx="1.25" ry="0.85" fill="#a8a200"/><ellipse cx="35.44" cy="277.5" rx="1.25" ry="0.8" fill="#3a7088"/><ellipse cx="35.44" cy="302.4" rx="1.25" ry="0.8" fill="#8a8540"/><ellipse cx="35.44" cy="305.5" rx="1.25" ry="0.85" fill="#a8a200"/><ellipse cx="40.41" cy="277.5" rx="1.25" ry="0.8" fill="#3a7088"/><ellipse cx="40.41" cy="302.4" rx="1.25" ry="0.8" fill="#8a8540"/><ellipse cx="40.41" cy="305.5" rx="1.25" ry="0.85" fill="#a8a200"/><ellipse cx="45.37" cy="277.5" rx="1.25" ry="0.8" fill="#3a7088"/><ellipse cx="45.37" cy="302.4" rx="1.25" ry="0.8" fill="#8a8540"/><ellipse cx="45.37" cy="305.5" rx="1.25" ry="0.85" fill="#a8a200"/><ellipse cx="50.34" cy="277.5" rx="1.25" ry="0.8" fill="#3a7088"/><ellipse cx="50.34" cy="302.4" rx="1.25" ry="0.8" fill="#8a8540"/><ellipse cx="50.34" cy="305.5" rx="1.25" ry="0.85" fill="#a8a200"/><ellipse cx="55.30" cy="277.5" rx="1.25" ry="0.8" fill="#3a7088"/><ellipse cx="55.30" cy="302.4" rx="1.25" ry="0.8" fill="#8a8540"/><ellipse cx="55.30" cy="305.5" rx="1.25" ry="0.85" fill="#a8a200"/><ellipse cx="60.26" cy="277.5" rx="1.25" ry="0.8" fill="#3a7088"/><ellipse cx="60.26" cy="302.4" rx="1.25" ry="0.8" fill="#8a8540"/><ellipse cx="60.26" cy="305.5" rx="1.25" ry="0.85" fill="#a8a200"/><ellipse cx="65.23" cy="277.5" rx="1.25" ry="0.8" fill="#3a7088"/><ellipse cx="65.23" cy="302.4" rx="1.25" ry="0.8" fill="#8a8540"/><ellipse cx="65.23" cy="305.5" rx="1.25" ry="0.85" fill="#a8a200"/><ellipse cx="70.19" cy="277.5" rx="1.25" ry="0.8" fill="#3a7088"/><ellipse cx="70.19" cy="302.4" rx="1.25" ry="0.8" fill="#8a8540"/><ellipse cx="70.19" cy="305.5" rx="1.25" ry="0.85" fill="#a8a200"/><ellipse cx="75.16" cy="277.5" rx="1.25" ry="0.8" fill="#3a7088"/><ellipse cx="75.16" cy="302.4" rx="1.25" ry="0.8" fill="#8a8540"/><ellipse cx="75.16" cy="305.5" rx="1.25" ry="0.85" fill="#a8a200"/><ellipse cx="80.12" cy="277.5" rx="1.25" ry="0.8" fill="#3a7088"/><ellipse cx="80.12" cy="302.4" rx="1.25" ry="0.8" fill="#8a8540"/><ellipse cx="80.12" cy="305.5" rx="1.25" ry="0.85" fill="#a8a200"/><ellipse cx="85.08" cy="277.5" rx="1.25" ry="0.8" fill="#3a7088"/><ellipse cx="85.08" cy="302.4" rx="1.25" ry="0.8" fill="#8a8540"/><ellipse cx="85.08" cy="305.5" rx="1.25" ry="0.85" fill="#a8a200"/><ellipse cx="90.05" cy="277.5" rx="1.25" ry="0.8" fill="#3a7088"/><ellipse cx="90.05" cy="302.4" rx="1.25" ry="0.8" fill="#8a8540"/><ellipse cx="90.05" cy="305.5" rx="1.25" ry="0.85" fill="#a8a200"/><ellipse cx="95.01" cy="277.5" rx="1.25" ry="0.8" fill="#3a7088"/><ellipse cx="95.01" cy="302.4" rx="1.25" ry="0.8" fill="#8a8540"/><ellipse cx="95.01" cy="305.5" rx="1.25" ry="0.85" fill="#a8a200"/><ellipse cx="99.98" cy="277.5" rx="1.25" ry="0.8" fill="#3a7088"/><ellipse cx="99.98" cy="302.4" rx="1.25" ry="0.8" fill="#8a8540"/><ellipse cx="99.98" cy="305.5" rx="1.25" ry="0.85" fill="#a8a200"/><ellipse cx="104.94" cy="277.5" rx="1.25" ry="0.8" fill="#3a7088"/><ellipse cx="104.94" cy="302.4" rx="1.25" ry="0.8" fill="#8a8540"/><ellipse cx="104.94" cy="305.5" rx="1.25" ry="0.85" fill="#a8a200"/><ellipse cx="109.90" cy="277.5" rx="1.25" ry="0.8" fill="#3a7088"/><ellipse cx="109.90" cy="302.4" rx="1.25" ry="0.8" fill="#8a8540"/><ellipse cx="109.90" cy="305.5" rx="1.25" ry="0.85" fill="#a8a200"/><ellipse cx="114.87" cy="277.5" rx="1.25" ry="0.8" fill="#3a7088"/><ellipse cx="114.87" cy="302.4" rx="1.25" ry="0.8" fill="#8a8540"/><ellipse cx="114.87" cy="305.5" rx="1.25" ry="0.85" fill="#a8a200"/><ellipse cx="119.83" cy="277.5" rx="1.25" ry="0.8" fill="#3a7088"/><ellipse cx="119.83" cy="302.4" rx="1.25" ry="0.8" fill="#8a8540"/><ellipse cx="119.83" cy="305.5" rx="1.25" ry="0.85" fill="#a8a200"/><ellipse cx="124.80" cy="277.5" rx="1.25" ry="0.8" fill="#3a7088"/><ellipse cx="124.80" cy="302.4" rx="1.25" ry="0.8" fill="#8a8540"/><ellipse cx="124.80" cy="305.5" rx="1.25" ry="0.85" fill="#a8a200"/><ellipse cx="129.76" cy="277.5" rx="1.25" ry="0.8" fill="#3a7088"/><ellipse cx="129.76" cy="302.4" rx="1.25" ry="0.8" fill="#8a8540"/><ellipse cx="129.76" cy="305.5" rx="1.25" ry="0.85" fill="#a8a200"/><ellipse cx="134.72" cy="277.5" rx="1.25" ry="0.8" fill="#3a7088"/><ellipse cx="134.72" cy="302.4" rx="1.25" ry="0.8" fill="#8a8540"/><ellipse cx="134.72" cy="305.5" rx="1.25" ry="0.85" fill="#a8a200"/><ellipse cx="139.69" cy="277.5" rx="1.25" ry="0.8" fill="#3a7088"/><ellipse cx="139.69" cy="302.4" rx="1.25" ry="0.8" fill="#8a8540"/><ellipse cx="139.69" cy="305.5" rx="1.25" ry="0.85" fill="#a8a200"/><ellipse cx="144.65" cy="277.5" rx="1.25" ry="0.8" fill="#3a7088"/><ellipse cx="144.65" cy="302.4" rx="1.25" ry="0.8" fill="#8a8540"/><ellipse cx="144.65" cy="305.5" rx="1.25" ry="0.85" fill="#a8a200"/><ellipse cx="149.62" cy="277.5" rx="1.25" ry="0.8" fill="#3a7088"/><ellipse cx="149.62" cy="302.4" rx="1.25" ry="0.8" fill="#8a8540"/><ellipse cx="149.62" cy="305.5" rx="1.25" ry="0.85" fill="#a8a200"/><ellipse cx="154.58" cy="277.5" rx="1.25" ry="0.8" fill="#3a7088"/><ellipse cx="154.58" cy="302.4" rx="1.25" ry="0.8" fill="#8a8540"/><ellipse cx="154.58" cy="305.5" rx="1.25" ry="0.85" fill="#a8a200"/><ellipse cx="159.54" cy="277.5" rx="1.25" ry="0.8" fill="#3a7088"/><ellipse cx="159.54" cy="302.4" rx="1.25" ry="0.8" fill="#8a8540"/><ellipse cx="159.54" cy="305.5" rx="1.25" ry="0.85" fill="#a8a200"/><ellipse cx="164.51" cy="277.5" rx="1.25" ry="0.8" fill="#3a7088"/><ellipse cx="164.51" cy="302.4" rx="1.25" ry="0.8" fill="#8a8540"/><ellipse cx="164.51" cy="305.5" rx="1.25" ry="0.85" fill="#a8a200"/><ellipse cx="169.47" cy="277.5" rx="1.25" ry="0.8" fill="#3a7088"/><ellipse cx="169.47" cy="302.4" rx="1.25" ry="0.8" fill="#8a8540"/><ellipse cx="169.47" cy="305.5" rx="1.25" ry="0.85" fill="#a8a200"/><ellipse cx="174.44" cy="277.5" rx="1.25" ry="0.8" fill="#3a7088"/><ellipse cx="174.44" cy="302.4" rx="1.25" ry="0.8" fill="#8a8540"/><ellipse cx="174.44" cy="305.5" rx="1.25" ry="0.85" fill="#a8a200"/><ellipse cx="179.40" cy="277.5" rx="1.25" ry="0.8" fill="#3a7088"/><ellipse cx="179.40" cy="302.4" rx="1.25" ry="0.8" fill="#8a8540"/><ellipse cx="179.40" cy="305.5" rx="1.25" ry="0.85" fill="#a8a200"/><ellipse cx="184.36" cy="277.5" rx="1.25" ry="0.8" fill="#3a7088"/><ellipse cx="184.36" cy="302.4" rx="1.25" ry="0.8" fill="#8a8540"/><ellipse cx="184.36" cy="305.5" rx="1.25" ry="0.85" fill="#a8a200"/><ellipse cx="189.33" cy="277.5" rx="1.25" ry="0.8" fill="#3a7088"/><ellipse cx="189.33" cy="302.4" rx="1.25" ry="0.8" fill="#8a8540"/><ellipse cx="189.33" cy="305.5" rx="1.25" ry="0.85" fill="#a8a200"/><ellipse cx="194.29" cy="277.5" rx="1.25" ry="0.8" fill="#3a7088"/><ellipse cx="194.29" cy="302.4" rx="1.25" ry="0.8" fill="#8a8540"/><ellipse cx="194.29" cy="305.5" rx="1.25" ry="0.85" fill="#a8a200"/><ellipse cx="199.26" cy="277.5" rx="1.25" ry="0.8" fill="#3a7088"/><ellipse cx="199.26" cy="302.4" rx="1.25" ry="0.8" fill="#8a8540"/><ellipse cx="199.26" cy="305.5" rx="1.25" ry="0.85" fill="#a8a200"/><ellipse cx="204.22" cy="277.5" rx="1.25" ry="0.8" fill="#3a7088"/><ellipse cx="204.22" cy="302.4" rx="1.25" ry="0.8" fill="#8a8540"/><ellipse cx="204.22" cy="305.5" rx="1.25" ry="0.85" fill="#a8a200"/><ellipse cx="209.18" cy="277.5" rx="1.25" ry="0.8" fill="#3a7088"/><ellipse cx="209.18" cy="302.4" rx="1.25" ry="0.8" fill="#8a8540"/><ellipse cx="209.18" cy="305.5" rx="1.25" ry="0.85" fill="#a8a200"/><ellipse cx="214.15" cy="277.5" rx="1.25" ry="0.8" fill="#3a7088"/><ellipse cx="214.15" cy="302.4" rx="1.25" ry="0.8" fill="#8a8540"/><ellipse cx="214.15" cy="305.5" rx="1.25" ry="0.85" fill="#a8a200"/><ellipse cx="219.11" cy="277.5" rx="1.25" ry="0.8" fill="#3a7088"/><ellipse cx="219.11" cy="302.4" rx="1.25" ry="0.8" fill="#8a8540"/><ellipse cx="219.11" cy="305.5" rx="1.25" ry="0.85" fill="#a8a200"/><ellipse cx="224.08" cy="277.5" rx="1.25" ry="0.8" fill="#3a7088"/><ellipse cx="224.08" cy="302.4" rx="1.25" ry="0.8" fill="#8a8540"/><ellipse cx="224.08" cy="305.5" rx="1.25" ry="0.85" fill="#a8a200"/><ellipse cx="229.04" cy="277.5" rx="1.25" ry="0.8" fill="#3a7088"/><ellipse cx="229.04" cy="302.4" rx="1.25" ry="0.8" fill="#8a8540"/><ellipse cx="229.04" cy="305.5" rx="1.25" ry="0.85" fill="#a8a200"/><ellipse cx="234.00" cy="277.5" rx="1.25" ry="0.8" fill="#3a7088"/><ellipse cx="234.00" cy="302.4" rx="1.25" ry="0.8" fill="#8a8540"/><ellipse cx="234.00" cy="305.5" rx="1.25" ry="0.85" fill="#a8a200"/><ellipse cx="238.97" cy="277.5" rx="1.25" ry="0.8" fill="#3a7088"/><ellipse cx="238.97" cy="302.4" rx="1.25" ry="0.8" fill="#8a8540"/><ellipse cx="238.97" cy="305.5" rx="1.25" ry="0.85" fill="#a8a200"/><ellipse cx="243.93" cy="277.5" rx="1.25" ry="0.8" fill="#3a7088"/><ellipse cx="243.93" cy="302.4" rx="1.25" ry="0.8" fill="#8a8540"/><ellipse cx="243.93" cy="305.5" rx="1.25" ry="0.85" fill="#a8a200"/><ellipse cx="248.90" cy="277.5" rx="1.25" ry="0.8" fill="#3a7088"/><ellipse cx="248.90" cy="302.4" rx="1.25" ry="0.8" fill="#8a8540"/><ellipse cx="248.90" cy="305.5" rx="1.25" ry="0.85" fill="#a8a200"/><ellipse cx="253.86" cy="277.5" rx="1.25" ry="0.8" fill="#3a7088"/><ellipse cx="253.86" cy="302.4" rx="1.25" ry="0.8" fill="#8a8540"/><ellipse cx="253.86" cy="305.5" rx="1.25" ry="0.85" fill="#a8a200"/><ellipse cx="258.82" cy="277.5" rx="1.25" ry="0.8" fill="#3a7088"/><ellipse cx="258.82" cy="302.4" rx="1.25" ry="0.8" fill="#8a8540"/><ellipse cx="258.82" cy="305.5" rx="1.25" ry="0.85" fill="#a8a200"/><ellipse cx="263.79" cy="277.5" rx="1.25" ry="0.8" fill="#3a7088"/><ellipse cx="263.79" cy="302.4" rx="1.25" ry="0.8" fill="#8a8540"/><ellipse cx="263.79" cy="305.5" rx="1.25" ry="0.85" fill="#a8a200"/><ellipse cx="268.75" cy="277.5" rx="1.25" ry="0.8" fill="#3a7088"/><ellipse cx="268.75" cy="302.4" rx="1.25" ry="0.8" fill="#8a8540"/><ellipse cx="268.75" cy="305.5" rx="1.25" ry="0.85" fill="#a8a200"/><ellipse cx="273.72" cy="277.5" rx="1.25" ry="0.8" fill="#3a7088"/><ellipse cx="273.72" cy="302.4" rx="1.25" ry="0.8" fill="#8a8540"/><ellipse cx="273.72" cy="305.5" rx="1.25" ry="0.85" fill="#a8a200"/><ellipse cx="278.68" cy="277.5" rx="1.25" ry="0.8" fill="#3a7088"/><ellipse cx="278.68" cy="302.4" rx="1.25" ry="0.8" fill="#8a8540"/><ellipse cx="278.68" cy="305.5" rx="1.25" ry="0.85" fill="#a8a200"/><ellipse cx="283.64" cy="277.5" rx="1.25" ry="0.8" fill="#3a7088"/><ellipse cx="283.64" cy="302.4" rx="1.25" ry="0.8" fill="#8a8540"/><ellipse cx="283.64" cy="305.5" rx="1.25" ry="0.85" fill="#a8a200"/><ellipse cx="288.61" cy="277.5" rx="1.25" ry="0.8" fill="#3a7088"/><ellipse cx="288.61" cy="302.4" rx="1.25" ry="0.8" fill="#8a8540"/><ellipse cx="288.61" cy="305.5" rx="1.25" ry="0.85" fill="#a8a200"/><ellipse cx="293.57" cy="277.5" rx="1.25" ry="0.8" fill="#3a7088"/><ellipse cx="293.57" cy="302.4" rx="1.25" ry="0.8" fill="#8a8540"/><ellipse cx="293.57" cy="305.5" rx="1.25" ry="0.85" fill="#a8a200"/><ellipse cx="298.54" cy="277.5" rx="1.25" ry="0.8" fill="#3a7088"/><ellipse cx="298.54" cy="302.4" rx="1.25" ry="0.8" fill="#8a8540"/><ellipse cx="298.54" cy="305.5" rx="1.25" ry="0.85" fill="#a8a200"/><ellipse cx="303.50" cy="277.5" rx="1.25" ry="0.8" fill="#3a7088"/><ellipse cx="303.50" cy="302.4" rx="1.25" ry="0.8" fill="#8a8540"/><ellipse cx="303.50" cy="305.5" rx="1.25" ry="0.85" fill="#a8a200"/><ellipse cx="308.46" cy="277.5" rx="1.25" ry="0.8" fill="#3a7088"/><ellipse cx="308.46" cy="302.4" rx="1.25" ry="0.8" fill="#8a8540"/><ellipse cx="308.46" cy="305.5" rx="1.25" ry="0.85" fill="#a8a200"/><ellipse cx="313.43" cy="277.5" rx="1.25" ry="0.8" fill="#3a7088"/><ellipse cx="313.43" cy="302.4" rx="1.25" ry="0.8" fill="#8a8540"/><ellipse cx="313.43" cy="305.5" rx="1.25" ry="0.85" fill="#a8a200"/><ellipse cx="318.39" cy="277.5" rx="1.25" ry="0.8" fill="#3a7088"/><ellipse cx="318.39" cy="302.4" rx="1.25" ry="0.8" fill="#8a8540"/><ellipse cx="318.39" cy="305.5" rx="1.25" ry="0.85" fill="#a8a200"/><ellipse cx="323.36" cy="277.5" rx="1.25" ry="0.8" fill="#3a7088"/><ellipse cx="323.36" cy="302.4" rx="1.25" ry="0.8" fill="#8a8540"/><ellipse cx="323.36" cy="305.5" rx="1.25" ry="0.85" fill="#a8a200"/><ellipse cx="328.32" cy="277.5" rx="1.25" ry="0.8" fill="#3a7088"/><ellipse cx="328.32" cy="302.4" rx="1.25" ry="0.8" fill="#8a8540"/><ellipse cx="328.32" cy="305.5" rx="1.25" ry="0.85" fill="#a8a200"/><ellipse cx="333.28" cy="277.5" rx="1.25" ry="0.8" fill="#3a7088"/><ellipse cx="333.28" cy="302.4" rx="1.25" ry="0.8" fill="#8a8540"/><ellipse cx="333.28" cy="305.5" rx="1.25" ry="0.85" fill="#a8a200"/><ellipse cx="338.25" cy="277.5" rx="1.25" ry="0.8" fill="#3a7088"/><ellipse cx="338.25" cy="302.4" rx="1.25" ry="0.8" fill="#8a8540"/><ellipse cx="338.25" cy="305.5" rx="1.25" ry="0.85" fill="#a8a200"/><ellipse cx="343.21" cy="277.5" rx="1.25" ry="0.8" fill="#3a7088"/><ellipse cx="343.21" cy="302.4" rx="1.25" ry="0.8" fill="#8a8540"/><ellipse cx="343.21" cy="305.5" rx="1.25" ry="0.85" fill="#a8a200"/><ellipse cx="348.18" cy="277.5" rx="1.25" ry="0.8" fill="#3a7088"/><ellipse cx="348.18" cy="302.4" rx="1.25" ry="0.8" fill="#8a8540"/><ellipse cx="348.18" cy="305.5" rx="1.25" ry="0.85" fill="#a8a200"/><ellipse cx="353.14" cy="277.5" rx="1.25" ry="0.8" fill="#3a7088"/><ellipse cx="353.14" cy="302.4" rx="1.25" ry="0.8" fill="#8a8540"/><ellipse cx="353.14" cy="305.5" rx="1.25" ry="0.85" fill="#a8a200"/><ellipse cx="358.10" cy="277.5" rx="1.25" ry="0.8" fill="#3a7088"/><ellipse cx="358.10" cy="302.4" rx="1.25" ry="0.8" fill="#8a8540"/><ellipse cx="358.10" cy="305.5" rx="1.25" ry="0.85" fill="#a8a200"/><ellipse cx="363.07" cy="277.5" rx="1.25" ry="0.8" fill="#3a7088"/><ellipse cx="363.07" cy="302.4" rx="1.25" ry="0.8" fill="#8a8540"/><ellipse cx="363.07" cy="305.5" rx="1.25" ry="0.85" fill="#a8a200"/><ellipse cx="368.03" cy="277.5" rx="1.25" ry="0.8" fill="#3a7088"/><ellipse cx="368.03" cy="302.4" rx="1.25" ry="0.8" fill="#8a8540"/><ellipse cx="368.03" cy="305.5" rx="1.25" ry="0.85" fill="#a8a200"/><ellipse cx="373.00" cy="277.5" rx="1.25" ry="0.8" fill="#3a7088"/><ellipse cx="373.00" cy="302.4" rx="1.25" ry="0.8" fill="#8a8540"/><ellipse cx="373.00" cy="305.5" rx="1.25" ry="0.85" fill="#a8a200"/><ellipse cx="377.96" cy="277.5" rx="1.25" ry="0.8" fill="#3a7088"/><ellipse cx="377.96" cy="302.4" rx="1.25" ry="0.8" fill="#8a8540"/><ellipse cx="377.96" cy="305.5" rx="1.25" ry="0.85" fill="#a8a200"/><ellipse cx="382.92" cy="277.5" rx="1.25" ry="0.8" fill="#3a7088"/><ellipse cx="382.92" cy="302.4" rx="1.25" ry="0.8" fill="#8a8540"/><ellipse cx="382.92" cy="305.5" rx="1.25" ry="0.85" fill="#a8a200"/><ellipse cx="387.89" cy="277.5" rx="1.25" ry="0.8" fill="#3a7088"/><ellipse cx="387.89" cy="302.4" rx="1.25" ry="0.8" fill="#8a8540"/><ellipse cx="387.89" cy="305.5" rx="1.25" ry="0.85" fill="#a8a200"/><ellipse cx="392.85" cy="277.5" rx="1.25" ry="0.8" fill="#3a7088"/><ellipse cx="392.85" cy="302.4" rx="1.25" ry="0.8" fill="#8a8540"/><ellipse cx="392.85" cy="305.5" rx="1.25" ry="0.85" fill="#a8a200"/><ellipse cx="397.82" cy="277.5" rx="1.25" ry="0.8" fill="#3a7088"/><ellipse cx="397.82" cy="302.4" rx="1.25" ry="0.8" fill="#8a8540"/><ellipse cx="397.82" cy="305.5" rx="1.25" ry="0.85" fill="#a8a200"/><ellipse cx="402.78" cy="277.5" rx="1.25" ry="0.8" fill="#3a7088"/><ellipse cx="402.78" cy="302.4" rx="1.25" ry="0.8" fill="#8a8540"/><ellipse cx="402.78" cy="305.5" rx="1.25" ry="0.85" fill="#a8a200"/><ellipse cx="407.74" cy="277.5" rx="1.25" ry="0.8" fill="#3a7088"/><ellipse cx="407.74" cy="302.4" rx="1.25" ry="0.8" fill="#8a8540"/><ellipse cx="407.74" cy="305.5" rx="1.25" ry="0.85" fill="#a8a200"/><ellipse cx="412.71" cy="277.5" rx="1.25" ry="0.8" fill="#3a7088"/><ellipse cx="412.71" cy="302.4" rx="1.25" ry="0.8" fill="#8a8540"/><ellipse cx="412.71" cy="305.5" rx="1.25" ry="0.85" fill="#a8a200"/><ellipse cx="417.67" cy="277.5" rx="1.25" ry="0.8" fill="#3a7088"/><ellipse cx="417.67" cy="302.4" rx="1.25" ry="0.8" fill="#8a8540"/><ellipse cx="417.67" cy="305.5" rx="1.25" ry="0.85" fill="#a8a200"/><ellipse cx="422.64" cy="277.5" rx="1.25" ry="0.8" fill="#3a7088"/><ellipse cx="422.64" cy="302.4" rx="1.25" ry="0.8" fill="#8a8540"/><ellipse cx="422.64" cy="305.5" rx="1.25" ry="0.85" fill="#a8a200"/><ellipse cx="427.60" cy="277.5" rx="1.25" ry="0.8" fill="#3a7088"/><ellipse cx="427.60" cy="302.4" rx="1.25" ry="0.8" fill="#8a8540"/><ellipse cx="427.60" cy="305.5" rx="1.25" ry="0.85" fill="#a8a200"/><ellipse cx="432.56" cy="277.5" rx="1.25" ry="0.8" fill="#3a7088"/><ellipse cx="432.56" cy="302.4" rx="1.25" ry="0.8" fill="#8a8540"/><ellipse cx="432.56" cy="305.5" rx="1.25" ry="0.85" fill="#a8a200"/><ellipse cx="437.53" cy="277.5" rx="1.25" ry="0.8" fill="#3a7088"/><ellipse cx="437.53" cy="302.4" rx="1.25" ry="0.8" fill="#8a8540"/><ellipse cx="437.53" cy="305.5" rx="1.25" ry="0.85" fill="#a8a200"/><ellipse cx="442.49" cy="277.5" rx="1.25" ry="0.8" fill="#3a7088"/><ellipse cx="442.49" cy="302.4" rx="1.25" ry="0.8" fill="#8a8540"/><ellipse cx="442.49" cy="305.5" rx="1.25" ry="0.85" fill="#a8a200"/><ellipse cx="447.46" cy="277.5" rx="1.25" ry="0.8" fill="#3a7088"/><ellipse cx="447.46" cy="302.4" rx="1.25" ry="0.8" fill="#8a8540"/><ellipse cx="447.46" cy="305.5" rx="1.25" ry="0.85" fill="#a8a200"/><ellipse cx="452.42" cy="277.5" rx="1.25" ry="0.8" fill="#3a7088"/><ellipse cx="452.42" cy="302.4" rx="1.25" ry="0.8" fill="#8a8540"/><ellipse cx="452.42" cy="305.5" rx="1.25" ry="0.85" fill="#a8a200"/><ellipse cx="457.38" cy="277.5" rx="1.25" ry="0.8" fill="#3a7088"/><ellipse cx="457.38" cy="302.4" rx="1.25" ry="0.8" fill="#8a8540"/><ellipse cx="457.38" cy="305.5" rx="1.25" ry="0.85" fill="#a8a200"/><ellipse cx="462.35" cy="277.5" rx="1.25" ry="0.8" fill="#3a7088"/><ellipse cx="462.35" cy="302.4" rx="1.25" ry="0.8" fill="#8a8540"/><ellipse cx="462.35" cy="305.5" rx="1.25" ry="0.85" fill="#a8a200"/><ellipse cx="467.31" cy="277.5" rx="1.25" ry="0.8" fill="#3a7088"/><ellipse cx="467.31" cy="302.4" rx="1.25" ry="0.8" fill="#8a8540"/><ellipse cx="467.31" cy="305.5" rx="1.25" ry="0.85" fill="#a8a200"/><ellipse cx="472.28" cy="277.5" rx="1.25" ry="0.8" fill="#3a7088"/><ellipse cx="472.28" cy="302.4" rx="1.25" ry="0.8" fill="#8a8540"/><ellipse cx="472.28" cy="305.5" rx="1.25" ry="0.85" fill="#a8a200"/><ellipse cx="477.24" cy="277.5" rx="1.25" ry="0.8" fill="#3a7088"/><ellipse cx="477.24" cy="302.4" rx="1.25" ry="0.8" fill="#8a8540"/><ellipse cx="477.24" cy="305.5" rx="1.25" ry="0.85" fill="#a8a200"/><ellipse cx="482.20" cy="277.5" rx="1.25" ry="0.8" fill="#3a7088"/><ellipse cx="482.20" cy="302.4" rx="1.25" ry="0.8" fill="#8a8540"/><ellipse cx="482.20" cy="305.5" rx="1.25" ry="0.85" fill="#a8a200"/><ellipse cx="487.17" cy="277.5" rx="1.25" ry="0.8" fill="#3a7088"/><ellipse cx="487.17" cy="302.4" rx="1.25" ry="0.8" fill="#8a8540"/><ellipse cx="487.17" cy="305.5" rx="1.25" ry="0.85" fill="#a8a200"/><ellipse cx="492.13" cy="277.5" rx="1.25" ry="0.8" fill="#3a7088"/><ellipse cx="492.13" cy="302.4" rx="1.25" ry="0.8" fill="#8a8540"/><ellipse cx="492.13" cy="305.5" rx="1.25" ry="0.85" fill="#a8a200"/><ellipse cx="497.10" cy="277.5" rx="1.25" ry="0.8" fill="#3a7088"/><ellipse cx="497.10" cy="302.4" rx="1.25" ry="0.8" fill="#8a8540"/><ellipse cx="497.10" cy="305.5" rx="1.25" ry="0.85" fill="#a8a200"/><ellipse cx="502.06" cy="277.5" rx="1.25" ry="0.8" fill="#3a7088"/><ellipse cx="502.06" cy="302.4" rx="1.25" ry="0.8" fill="#8a8540"/><ellipse cx="502.06" cy="305.5" rx="1.25" ry="0.85" fill="#a8a200"/><ellipse cx="507.02" cy="277.5" rx="1.25" ry="0.8" fill="#3a7088"/><ellipse cx="507.02" cy="302.4" rx="1.25" ry="0.8" fill="#8a8540"/><ellipse cx="507.02" cy="305.5" rx="1.25" ry="0.85" fill="#a8a200"/><ellipse cx="511.99" cy="277.5" rx="1.25" ry="0.8" fill="#3a7088"/><ellipse cx="511.99" cy="302.4" rx="1.25" ry="0.8" fill="#8a8540"/><ellipse cx="511.99" cy="305.5" rx="1.25" ry="0.85" fill="#a8a200"/><ellipse cx="516.95" cy="277.5" rx="1.25" ry="0.8" fill="#3a7088"/><ellipse cx="516.95" cy="302.4" rx="1.25" ry="0.8" fill="#8a8540"/><ellipse cx="516.95" cy="305.5" rx="1.25" ry="0.85" fill="#a8a200"/><ellipse cx="521.92" cy="277.5" rx="1.25" ry="0.8" fill="#3a7088"/><ellipse cx="521.92" cy="302.4" rx="1.25" ry="0.8" fill="#8a8540"/><ellipse cx="521.92" cy="305.5" rx="1.25" ry="0.85" fill="#a8a200"/><ellipse cx="526.88" cy="277.5" rx="1.25" ry="0.8" fill="#3a7088"/><ellipse cx="526.88" cy="302.4" rx="1.25" ry="0.8" fill="#8a8540"/><ellipse cx="526.88" cy="305.5" rx="1.25" ry="0.85" fill="#a8a200"/><ellipse cx="531.84" cy="277.5" rx="1.25" ry="0.8" fill="#3a7088"/><ellipse cx="531.84" cy="302.4" rx="1.25" ry="0.8" fill="#8a8540"/><ellipse cx="531.84" cy="305.5" rx="1.25" ry="0.85" fill="#a8a200"/><ellipse cx="536.81" cy="277.5" rx="1.25" ry="0.8" fill="#3a7088"/><ellipse cx="536.81" cy="302.4" rx="1.25" ry="0.8" fill="#8a8540"/><ellipse cx="536.81" cy="305.5" rx="1.25" ry="0.85" fill="#a8a200"/><ellipse cx="541.77" cy="277.5" rx="1.25" ry="0.8" fill="#3a7088"/><ellipse cx="541.77" cy="302.4" rx="1.25" ry="0.8" fill="#8a8540"/><ellipse cx="541.77" cy="305.5" rx="1.25" ry="0.85" fill="#a8a200"/><ellipse cx="546.74" cy="277.5" rx="1.25" ry="0.8" fill="#3a7088"/><ellipse cx="546.74" cy="302.4" rx="1.25" ry="0.8" fill="#8a8540"/><ellipse cx="546.74" cy="305.5" rx="1.25" ry="0.85" fill="#a8a200"/><ellipse cx="551.70" cy="277.5" rx="1.25" ry="0.8" fill="#3a7088"/><ellipse cx="551.70" cy="302.4" rx="1.25" ry="0.8" fill="#8a8540"/><ellipse cx="551.70" cy="305.5" rx="1.25" ry="0.85" fill="#a8a200"/><ellipse cx="556.66" cy="277.5" rx="1.25" ry="0.8" fill="#3a7088"/><ellipse cx="556.66" cy="302.4" rx="1.25" ry="0.8" fill="#8a8540"/><ellipse cx="556.66" cy="305.5" rx="1.25" ry="0.85" fill="#a8a200"/><ellipse cx="561.63" cy="277.5" rx="1.25" ry="0.8" fill="#3a7088"/><ellipse cx="561.63" cy="302.4" rx="1.25" ry="0.8" fill="#8a8540"/><ellipse cx="561.63" cy="305.5" rx="1.25" ry="0.85" fill="#a8a200"/><ellipse cx="566.59" cy="277.5" rx="1.25" ry="0.8" fill="#3a7088"/><ellipse cx="566.59" cy="302.4" rx="1.25" ry="0.8" fill="#8a8540"/><ellipse cx="566.59" cy="305.5" rx="1.25" ry="0.85" fill="#a8a200"/><ellipse cx="571.56" cy="277.5" rx="1.25" ry="0.8" fill="#3a7088"/><ellipse cx="571.56" cy="302.4" rx="1.25" ry="0.8" fill="#8a8540"/><ellipse cx="571.56" cy="305.5" rx="1.25" ry="0.85" fill="#a8a200"/><ellipse cx="576.52" cy="277.5" rx="1.25" ry="0.8" fill="#3a7088"/><ellipse cx="576.52" cy="302.4" rx="1.25" ry="0.8" fill="#8a8540"/><ellipse cx="576.52" cy="305.5" rx="1.25" ry="0.85" fill="#a8a200"/><ellipse cx="581.48" cy="277.5" rx="1.25" ry="0.8" fill="#3a7088"/><ellipse cx="581.48" cy="302.4" rx="1.25" ry="0.8" fill="#8a8540"/><ellipse cx="581.48" cy="305.5" rx="1.25" ry="0.85" fill="#a8a200"/><ellipse cx="586.45" cy="277.5" rx="1.25" ry="0.8" fill="#3a7088"/><ellipse cx="586.45" cy="302.4" rx="1.25" ry="0.8" fill="#8a8540"/><ellipse cx="586.45" cy="305.5" rx="1.25" ry="0.85" fill="#a8a200"/><ellipse cx="591.41" cy="277.5" rx="1.25" ry="0.8" fill="#3a7088"/><ellipse cx="591.41" cy="302.4" rx="1.25" ry="0.8" fill="#8a8540"/><ellipse cx="591.41" cy="305.5" rx="1.25" ry="0.85" fill="#a8a200"/><ellipse cx="596.38" cy="277.5" rx="1.25" ry="0.8" fill="#3a7088"/><ellipse cx="596.38" cy="302.4" rx="1.25" ry="0.8" fill="#8a8540"/><ellipse cx="596.38" cy="305.5" rx="1.25" ry="0.85" fill="#a8a200"/><ellipse cx="601.34" cy="277.5" rx="1.25" ry="0.8" fill="#3a7088"/><ellipse cx="601.34" cy="302.4" rx="1.25" ry="0.8" fill="#8a8540"/><ellipse cx="601.34" cy="305.5" rx="1.25" ry="0.85" fill="#a8a200"/><ellipse cx="606.30" cy="277.5" rx="1.25" ry="0.8" fill="#3a7088"/><ellipse cx="606.30" cy="302.4" rx="1.25" ry="0.8" fill="#8a8540"/><ellipse cx="606.30" cy="305.5" rx="1.25" ry="0.85" fill="#a8a200"/><ellipse cx="611.27" cy="277.5" rx="1.25" ry="0.8" fill="#3a7088"/><ellipse cx="611.27" cy="302.4" rx="1.25" ry="0.8" fill="#8a8540"/><ellipse cx="611.27" cy="305.5" rx="1.25" ry="0.85" fill="#a8a200"/><ellipse cx="616.23" cy="277.5" rx="1.25" ry="0.8" fill="#3a7088"/><ellipse cx="616.23" cy="302.4" rx="1.25" ry="0.8" fill="#8a8540"/><ellipse cx="616.23" cy="305.5" rx="1.25" ry="0.85" fill="#a8a200"/><ellipse cx="621.20" cy="277.5" rx="1.25" ry="0.8" fill="#3a7088"/><ellipse cx="621.20" cy="302.4" rx="1.25" ry="0.8" fill="#8a8540"/><ellipse cx="621.20" cy="305.5" rx="1.25" ry="0.85" fill="#a8a200"/><ellipse cx="626.16" cy="277.5" rx="1.25" ry="0.8" fill="#3a7088"/><ellipse cx="626.16" cy="302.4" rx="1.25" ry="0.8" fill="#8a8540"/><ellipse cx="626.16" cy="305.5" rx="1.25" ry="0.85" fill="#a8a200"/><ellipse cx="631.12" cy="277.5" rx="1.25" ry="0.8" fill="#3a7088"/><ellipse cx="631.12" cy="302.4" rx="1.25" ry="0.8" fill="#8a8540"/><ellipse cx="631.12" cy="305.5" rx="1.25" ry="0.85" fill="#a8a200"/><ellipse cx="636.09" cy="277.5" rx="1.25" ry="0.8" fill="#3a7088"/><ellipse cx="636.09" cy="302.4" rx="1.25" ry="0.8" fill="#8a8540"/><ellipse cx="636.09" cy="305.5" rx="1.25" ry="0.85" fill="#a8a200"/><ellipse cx="641.05" cy="277.5" rx="1.25" ry="0.8" fill="#3a7088"/><ellipse cx="641.05" cy="302.4" rx="1.25" ry="0.8" fill="#8a8540"/><ellipse cx="641.05" cy="305.5" rx="1.25" ry="0.85" fill="#a8a200"/><rect x="5" y="275.7" width="637.5" height="1" fill="#1d3b3d"/><rect x="5" y="303.4" width="637.5" height="1.3" fill="#4d4c1e"/><rect x="5" y="289" width="637.5" height="1" fill="#4c4c4c"/><rect x="5" y="290" width="637.5" height="1" fill="#383838"/><rect x="5" y="291" width="637.5" height="1" fill="#424242"/><polyline points="5.1,301.8 17.7,300.7 31.8,298.0 42.4,293.6 47.7,289.2 53.0,286.5 61.8,284.8 74.2,283.5 83.0,282.8 91.9,281.2 102.5,279.1 113.0,277.7 120.0,277.0 135.0,275.9 150.0,275.4 165.0,275.3 180.0,277.2 190.0,279.3 200.0,282.0 210.0,285.3 220.0,288.7 235.0,292.0 250.0,293.6 260.0,294.2 280.0,294.0 295.0,292.7 310.0,289.8 325.0,287.0 335.0,284.3 345.0,280.3 355.0,275.9 365.0,274.6 375.0,274.3" fill="none" stroke="#c8c8c8" stroke-width="1.1"/></g><g clip-path="url(#cp3)"><polyline points="5.0,354.9 8.0,356.0 13.0,353.9 17.0,352.6 21.0,351.4 25.0,350.5 30.0,352.0 35.0,350.5 40.0,348.4 45.0,346.5 48.0,346.8 55.0,349.9 58.0,349.3 65.0,351.0 70.0,349.9 80.0,353.5 87.0,352.0 91.0,353.5 100.0,349.9 108.0,352.6 117.0,349.9 121.0,352.2 126.0,350.5 130.7,352.4 137.4,354.6 142.2,353.4 151.8,356.8 161.4,359.1 171.0,361.0 174.8,359.7 182.4,362.6 190.1,364.9 195.8,364.3 203.5,366.4 208.3,365.5 213.1,366.8 220.7,364.9 229.3,362.6 233.2,363.5 241.8,361.4 249.5,359.1 254.4,359.9 259.9,357.5 266.6,355.5 271.0,356.4 276.5,353.5 279.8,352.6 283.1,353.7 287.6,352.6 290.9,353.7 296.4,352.4 303.0,350.4 307.4,351.3 313.0,350.0 317.4,351.1 320.7,348.7 325.1,351.1 330.6,345.3 337.3,340.9 344.9,329.4 354.2,317.4 361.1,325.4 366.7,329.0 371.2,323.8 374.8,325.4" fill="none" stroke="#1c3380" stroke-width="1.1"/><line x1="349.7" y1="316.1" x2="388.2" y2="326.6" stroke="#d0b822" stroke-width="1.8"/></g><rect x="5" y="250.2" width="669" height="0.8" fill="#1c1f26"/><rect x="5" y="311.3" width="669" height="0.8" fill="#1c1f26"/><rect x="5" y="372.1" width="669" height="0.8" fill="#1c1f26"/><rect x="642.3" y="13" width="0.8" height="371" fill="#1c1f26"/><text x="646" y="44.4" class="ax" textLength="16.52" lengthAdjust="spacingAndGlyphs" >130.00</text><text x="646" y="59.5" class="ax" textLength="16.52" lengthAdjust="spacingAndGlyphs" >120.00</text><text x="646" y="74.6" class="ax" textLength="16.12" lengthAdjust="spacingAndGlyphs" >110.00</text><text x="646" y="89.7" class="ax" textLength="16.52" lengthAdjust="spacingAndGlyphs" >100.00</text><text x="646" y="119.9" class="ax" textLength="13.51" lengthAdjust="spacingAndGlyphs" >80.00</text><text x="646" y="135.0" class="ax" textLength="13.51" lengthAdjust="spacingAndGlyphs" >70.00</text><text x="646" y="150.1" class="ax" textLength="13.51" lengthAdjust="spacingAndGlyphs" >60.00</text><text x="646" y="165.2" class="ax" textLength="13.51" lengthAdjust="spacingAndGlyphs" >50.00</text><text x="646" y="180.4" class="ax" textLength="13.51" lengthAdjust="spacingAndGlyphs" >40.00</text><text x="646" y="195.5" class="ax" textLength="13.51" lengthAdjust="spacingAndGlyphs" >30.00</text><text x="646" y="210.6" class="ax" textLength="13.51" lengthAdjust="spacingAndGlyphs" >20.00</text><text x="646" y="225.7" class="ax" textLength="13.51" lengthAdjust="spacingAndGlyphs" >10.00</text><text x="646" y="240.8" class="ax" textLength="16.52" lengthAdjust="spacingAndGlyphs" >0.0000</text><text x="646" y="29.3" class="ax" textLength="16.52" lengthAdjust="spacingAndGlyphs" style="fill:#888;stroke:#888">140.00</text><rect x="642.8" y="90.8" width="21.4" height="13.6" fill="#22cbe4"/><text x="646" y="97.0" class="ax" textLength="13.51" lengthAdjust="spacingAndGlyphs" style="fill:#04262c;stroke:#04262c">95.10</text><text x="646" y="102.8" class="ax" textLength="16.52" lengthAdjust="spacingAndGlyphs" style="fill:#04262c;stroke:#04262c">17d 5h</text><text x="646" y="259.0" class="ax" textLength="10.51" lengthAdjust="spacingAndGlyphs" >2.00</text><text x="646" y="275.6" class="ax" textLength="16.52" lengthAdjust="spacingAndGlyphs" >1.0000</text><text x="646" y="292.0" class="ax" textLength="16.52" lengthAdjust="spacingAndGlyphs" >0.0000</text><text x="646" y="308.6" class="ax" textLength="19.67" lengthAdjust="spacingAndGlyphs" >−1.0000</text><g clip-path="url(#cp4)"></g><text x="646" y="327.8" class="ax" textLength="13.51" lengthAdjust="spacingAndGlyphs" >500M</text><text x="646" y="343.0" class="ax" textLength="13.51" lengthAdjust="spacingAndGlyphs" >250M</text><text x="646" y="357.7" class="ax" textLength="3.00" lengthAdjust="spacingAndGlyphs" >0</text><g clip-path="url(#cp5)"><text x="646" y="372.9" class="ax" textLength="16.66" lengthAdjust="spacingAndGlyphs" >−250M</text></g><text x="14.59" y="380.8" class="ax" textLength="12.01" lengthAdjust="spacingAndGlyphs">2019</text><text x="42.25" y="380.8" class="ax" textLength="6.90" lengthAdjust="spacingAndGlyphs">Jul</text><text x="64.69" y="380.8" class="ax" textLength="12.01" lengthAdjust="spacingAndGlyphs">2020</text><text x="92.25" y="380.8" class="ax" textLength="6.90" lengthAdjust="spacingAndGlyphs">Jul</text><text x="114.79" y="380.8" class="ax" textLength="12.01" lengthAdjust="spacingAndGlyphs">2021</text><text x="142.35" y="380.8" class="ax" textLength="6.90" lengthAdjust="spacingAndGlyphs">Jul</text><text x="164.79" y="380.8" class="ax" textLength="12.01" lengthAdjust="spacingAndGlyphs">2022</text><text x="192.55" y="380.8" class="ax" textLength="6.90" lengthAdjust="spacingAndGlyphs">Jul</text><text x="214.99" y="380.8" class="ax" textLength="12.01" lengthAdjust="spacingAndGlyphs">2023</text><text x="242.55" y="380.8" class="ax" textLength="6.90" lengthAdjust="spacingAndGlyphs">Jul</text><text x="264.99" y="380.8" class="ax" textLength="12.01" lengthAdjust="spacingAndGlyphs">2024</text><text x="292.45" y="380.8" class="ax" textLength="6.90" lengthAdjust="spacingAndGlyphs">Jul</text><text x="314.79" y="380.8" class="ax" textLength="12.01" lengthAdjust="spacingAndGlyphs">2025</text><text x="342.25" y="380.8" class="ax" textLength="6.90" lengthAdjust="spacingAndGlyphs">Jul</text><text x="364.99" y="380.8" class="ax" textLength="12.01" lengthAdjust="spacingAndGlyphs">2026</text><text x="392.05" y="380.8" class="ax" textLength="6.90" lengthAdjust="spacingAndGlyphs">Jul</text><text x="414.99" y="380.8" class="ax" textLength="12.01" lengthAdjust="spacingAndGlyphs">2027</text><text x="442.45" y="380.8" class="ax" textLength="6.90" lengthAdjust="spacingAndGlyphs">Jul</text><text x="464.79" y="380.8" class="ax" textLength="12.01" lengthAdjust="spacingAndGlyphs">2028</text><text x="492.25" y="380.8" class="ax" textLength="6.90" lengthAdjust="spacingAndGlyphs">Jul</text><text x="514.59" y="380.8" class="ax" textLength="12.01" lengthAdjust="spacingAndGlyphs">2029</text><text x="542.05" y="380.8" class="ax" textLength="6.90" lengthAdjust="spacingAndGlyphs">Jul</text><text x="564.39" y="380.8" class="ax" textLength="12.01" lengthAdjust="spacingAndGlyphs">2030</text><text x="592.25" y="380.8" class="ax" textLength="6.90" lengthAdjust="spacingAndGlyphs">Jul</text><text x="614.59" y="380.8" class="ax" textLength="12.01" lengthAdjust="spacingAndGlyphs">2031</text><text x="4.0" y="9.0" textLength="184.6" lengthAdjust="spacingAndGlyphs" font-size="6.2" fill="#e4e4e4" stroke="#e4e4e4" stroke-width="0.18" font-weight="normal" font-family="Liberation Sans, Arial, sans-serif">NebraskanGooner created with TradingView.com, Feb 10, 2026 10:43 UTC-6</text><text x="7.95" y="20.85" textLength="136.1" lengthAdjust="spacingAndGlyphs" font-size="6.0" fill="#c4c4c4" stroke="#c4c4c4" stroke-width="0.18" font-weight="normal" font-family="Liberation Sans, Arial, sans-serif">Kratos Defense &amp; Security Solutions, Inc. · 1M · NASDAQ</text><text x="146.9" y="20.85" textLength="3.6" lengthAdjust="spacingAndGlyphs" font-size="6.0" fill="#c4c4c4" stroke="#c4c4c4" stroke-width="0.18" font-weight="normal" font-family="Liberation Sans, Arial, sans-serif">O</text><text x="151.1" y="20.85" textLength="12.6" lengthAdjust="spacingAndGlyphs" font-size="6.0" fill="#22b9cd" stroke="#22b9cd" stroke-width="0.18" font-weight="normal" font-family="Liberation Sans, Arial, sans-serif">99.91</text><text x="168.1" y="20.85" textLength="3.1" lengthAdjust="spacingAndGlyphs" font-size="6.0" fill="#c4c4c4" stroke="#c4c4c4" stroke-width="0.18" font-weight="normal" font-family="Liberation Sans, Arial, sans-serif">H</text><text x="171.7" y="20.85" textLength="15.3" lengthAdjust="spacingAndGlyphs" font-size="6.0" fill="#22b9cd" stroke="#22b9cd" stroke-width="0.18" font-weight="normal" font-family="Liberation Sans, Arial, sans-serif">103.49</text><text x="190.1" y="20.85" textLength="2.2" lengthAdjust="spacingAndGlyphs" font-size="6.0" fill="#c4c4c4" stroke="#c4c4c4" stroke-width="0.18" font-weight="normal" font-family="Liberation Sans, Arial, sans-serif">L</text><text x="192.8" y="20.85" textLength="13.9" lengthAdjust="spacingAndGlyphs" font-size="6.0" fill="#22b9cd" stroke="#22b9cd" stroke-width="0.18" font-weight="normal" font-family="Liberation Sans, Arial, sans-serif">84.50</text><text x="209.8" y="20.85" textLength="2.4" lengthAdjust="spacingAndGlyphs" font-size="6.0" fill="#c4c4c4" stroke="#c4c4c4" stroke-width="0.18" font-weight="normal" font-family="Liberation Sans, Arial, sans-serif">C</text><text x="212.8" y="20.85" textLength="14.2" lengthAdjust="spacingAndGlyphs" font-size="6.0" fill="#22b9cd" stroke="#22b9cd" stroke-width="0.18" font-weight="normal" font-family="Liberation Sans, Arial, sans-serif">95.10</text><text x="229.9" y="20.85" textLength="12.8" lengthAdjust="spacingAndGlyphs" font-size="6.0" fill="#22b9cd" stroke="#22b9cd" stroke-width="0.18" font-weight="normal" font-family="Liberation Sans, Arial, sans-serif">−7.91</text><text x="244.9" y="20.85" textLength="20.7" lengthAdjust="spacingAndGlyphs" font-size="6.0" fill="#22b9cd" stroke="#22b9cd" stroke-width="0.18" font-weight="normal" font-family="Liberation Sans, Arial, sans-serif">(−7.68%)</text><rect x="644.3" y="14.5" width="27.6" height="11.4" rx="1.8" fill="#0e0e0e" stroke="#363636" stroke-width="1"/><rect x="643.8" y="26.2" width="28.6" height="1.2" fill="#000"/><text x="647.6" y="22.8" textLength="10.2" lengthAdjust="spacingAndGlyphs" font-size="6.6" fill="#e8e8e8" stroke="#e8e8e8" stroke-width="0.18" font-weight="normal" font-family="Liberation Sans, Arial, sans-serif">USD</text><text x="22.2" y="401.9" textLength="54.3" lengthAdjust="spacingAndGlyphs" font-size="9.8" fill="#ececec" stroke="#ececec" stroke-width="0" font-weight="bold" font-family="Liberation Sans, Arial, sans-serif">TradingView</text><path d="M5 394.9H11V401.8H8.1V397.5H5Z" fill="#ececec"/><circle cx="12.9" cy="396.45" r="1.05" fill="#ececec"/><path d="M15 394.9H18.8L16.1 401.8H12.8Z" fill="#ececec"/></svg>
</body></html>
